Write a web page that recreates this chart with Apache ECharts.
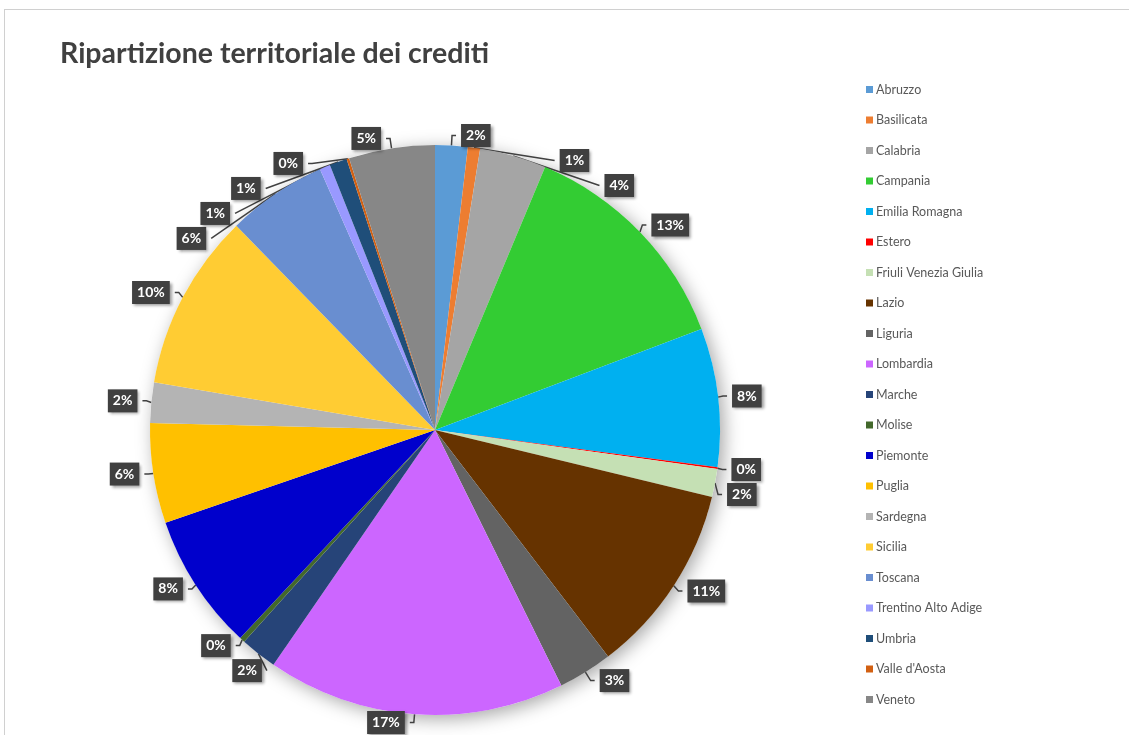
<!DOCTYPE html>
<html>
<head>
<meta charset="utf-8">
<script src="https://cdn.jsdelivr.net/npm/echarts@6/dist/echarts.min.js"></script>
<style>
html,body{margin:0;padding:0;background:#fff;}
#frame{position:absolute;left:4px;top:9px;width:1140px;height:740px;border-left:1px solid #d0d0d0;border-top:1px solid #d0d0d0;}
#chart{position:absolute;left:0;top:0;width:1129px;height:735px;}
</style>
</head>
<body>
<div id="frame"></div>
<div id="chart"></div>
<script>
const regions = ["Abruzzo","Basilicata","Calabria","Campania","Emilia Romagna","Estero","Friuli Venezia Giulia","Lazio","Liguria","Lombardia","Marche","Molise","Piemonte","Puglia","Sardegna","Sicilia","Toscana","Trentino Alto Adige","Umbria","Valle d'Aosta","Veneto"];
const shares = [1.85,0.7,3.8,13.0,7.9,0.1,1.6,10.9,3.1,17.0,2.1,0.3,7.8,5.7,2.3,10.1,5.7,0.6,1.0,0.15,4.9];
const palette = ["#5B9BD5","#ED7D31","#A5A5A5","#33CC33","#00B0F0","#FF0000","#C5E0B4","#663300","#636363","#CC66FF","#264478","#43682B","#0000CC","#FFC000","#B4B4B4","#FFCC33","#698ED0","#9999FF","#1F4E79","#D26012","#878787"];
const titleText = "Ripartizione territoriale dei crediti";

const chart = echarts.init(document.getElementById('chart'));
const font = "Lato, 'Open Sans', sans-serif";
chart.setOption({
  backgroundColor: 'transparent',
  animation: false,
  title: {
    text: titleText, left: 55, top: 34,
    textStyle: {fontFamily: font, fontSize: 28.5, fontWeight: 'bold', color: '#404040'}
  },
  legend: {
    orient: 'vertical', left: 861, top: 78, itemGap: 17.5,
    itemWidth: 7, itemHeight: 7, icon: 'rect',
    data: regions,
    textStyle: {fontFamily: font, fontSize: 12.5, color: '#595959', padding: [0,0,0,-2]}
  },
  series: [
    {
      type: 'pie', silent: true, center: [435, 430], radius: 285,
      label: {show: false}, labelLine: {show: false},
      data: [{value: 1, name: '_bg', itemStyle: {color: '#fff', shadowBlur: 18, shadowColor: 'rgba(0,0,0,0.35)', shadowOffsetX: 4, shadowOffsetY: 4}}],
      z: 1
    },
    {
      type: 'pie', center: [435, 430], radius: 285, startAngle: 90, clockwise: true,
      avoidLabelOverlap: true, z: 2,
      labelLayout: {hideOverlap: false},
      data: regions.map((r, i) => ({name: r, value: shares[i], itemStyle: {color: palette[i]}})),
      label: {
        show: true, position: 'outside',
        formatter: p => Math.round(p.percent) + '%',
        backgroundColor: '#404040', color: '#fff', fontFamily: font,
        fontWeight: 'bold', fontSize: 14, padding: [5, 5, 4, 5],
        shadowBlur: 3, shadowColor: 'rgba(0,0,0,0.4)', shadowOffsetX: 2, shadowOffsetY: 2
      },
      labelLine: {show: true, length: 10, length2: 4, lineStyle: {color: '#404040', width: 1.5}}
    }
  ]
});
</script>
</body>
</html>
